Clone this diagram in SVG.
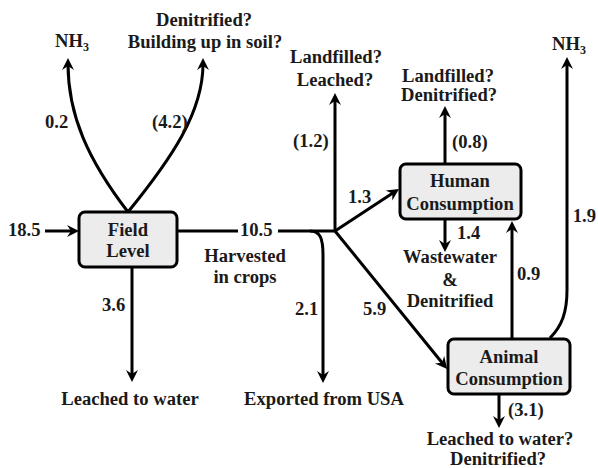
<svg xmlns="http://www.w3.org/2000/svg" width="598" height="468" viewBox="0 0 598 468">
<style>
text{font-family:"Liberation Serif","Times New Roman",serif;font-weight:bold;font-size:18.6px;fill:#1a1a1a}
.c{text-anchor:middle}
.e{text-anchor:end}
.ln{fill:none;stroke:#000;stroke-width:3}
.ar{marker-end:url(#ah)}
.box{fill:#ececec;stroke:#000;stroke-width:3}
.sub{font-size:12px}
</style>
<defs>
<marker id="ah" markerUnits="userSpaceOnUse" markerWidth="14" markerHeight="14" viewBox="0 -7 14 14" refX="6" refY="0" orient="auto">
<path d="M12,0 L0,-6 L4,0 L0,6 Z" fill="#000"/>
</marker>
</defs>
<rect width="598" height="468" fill="#fff"/>
<g id="connectors">
<path class="ln ar" d="M45,231 L73,231"/>
<path class="ln ar" d="M128,212 C88,160 68,115 68,64"/>
<path class="ln ar" d="M128,212 C172,158 203,112 203,64"/>
<path class="ln" d="M177,231 L238,231"/>
<path class="ln" d="M278,231 L335,231"/>
<path class="ln ar" d="M132,267 L132,376"/>
<path class="ln ar" d="M310,231 C320,231 323,238 323,255 L323,377"/>
<path class="ln ar" d="M335,231 L335,99"/>
<path class="ln ar" d="M335,231 L394,192.3"/>
<path class="ln ar" d="M335,231 L443.3,364.3"/>
<path class="ln ar" d="M445,164 L445,112"/>
<path class="ln ar" d="M445,219 L445,246"/>
<path class="ln ar" d="M512,339 L512,227"/>
<path class="ln ar" d="M550,338 C562,326 567,312 567,290 L567,63"/>
<path class="ln ar" d="M499,394 L499,422"/>
</g>
<g id="field">
<rect class="box" x="79" y="212" width="98" height="55" rx="6"/>
<text class="c" x="128" y="236">Field</text>
<text class="c" x="128" y="257">Level</text>
</g>
<g id="human">
<rect class="box" x="400" y="164" width="121" height="55" rx="6"/>
<text class="c" x="460" y="187">Human</text>
<text class="c" x="460" y="210">Consumption</text>
</g>
<g id="animal">
<rect class="box" x="448" y="339" width="122" height="55" rx="6"/>
<text class="c" x="509" y="363">Animal</text>
<text class="c" x="509" y="385">Consumption</text>
</g>
<g id="labels">
<text x="55" y="47">NH<tspan class="sub" dy="4">3</tspan></text>
<text class="c" x="204" y="26">Denitrified?</text>
<text class="c" x="205" y="48">Building up in soil?</text>
<text x="45" y="128">0.2</text>
<text x="152" y="128">(4.2)</text>
<text x="8" y="236">18.5</text>
<text x="240" y="236">10.5</text>
<text class="c" x="245" y="262">Harvested</text>
<text class="c" x="245" y="283">in crops</text>
<text x="102" y="311">3.6</text>
<text class="c" x="130" y="405">Leached to water</text>
<text x="295" y="315">2.1</text>
<text class="c" x="324" y="405">Exported from USA</text>
<text x="363" y="315">5.9</text>
<text x="348" y="203">1.3</text>
<text class="c" x="336" y="63">Landfilled?</text>
<text class="c" x="335" y="86">Leached?</text>
<text x="293" y="147">(1.2)</text>
<text class="c" x="448" y="82">Landfilled?</text>
<text class="c" x="449" y="101">Denitrified?</text>
<text x="452" y="148">(0.8)</text>
<text x="457" y="239">1.4</text>
<text class="c" x="450" y="263">Wastewater</text>
<text class="c" x="450" y="286">&amp;</text>
<text class="c" x="450" y="307">Denitrified</text>
<text x="517" y="280">0.9</text>
<text x="552" y="50">NH<tspan class="sub" dy="4">3</tspan></text>
<text class="e" x="596" y="222">1.9</text>
<text x="508" y="416">(3.1)</text>
<text class="c" x="500" y="445">Leached to water?</text>
<text class="c" x="498" y="465">Denitrified?</text>
</g>
</svg>
